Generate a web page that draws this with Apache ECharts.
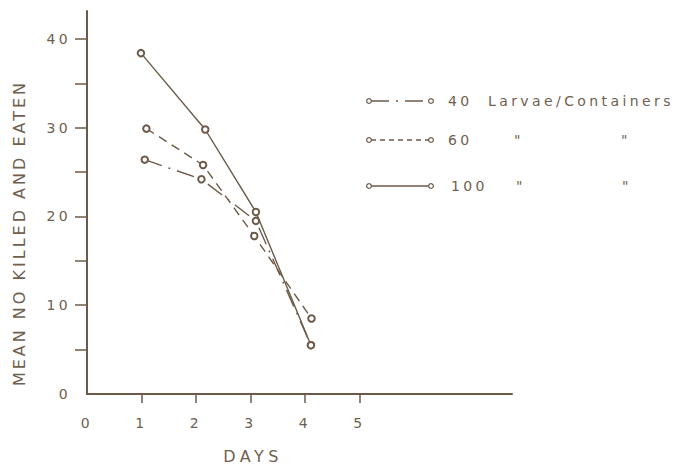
<!DOCTYPE html>
<html>
<head>
<meta charset="utf-8">
<title>Mean number killed and eaten</title>
<script src="https://cdn.jsdelivr.net/npm/echarts@6/dist/echarts.min.js"></script>
<style>
  html, body { margin: 0; padding: 0; background: #ffffff; }
  #chart { width: 677px; height: 464px; }
  #chart text { letter-spacing: 3.4px; }
</style>
</head>
<body>
<div id="chart"></div>
<script>
// Larvae killed and eaten per day, for three container densities
const days40 = [1.06, 2.10, 3.10, 4.11];
const kills40 = [26.4, 24.2, 19.5, 5.5];

const days60 = [1.09, 2.13, 3.07, 4.12];
const kills60 = [29.9, 25.8, 17.8, 8.5];

const days100 = [0.99, 2.17, 3.10, 4.11];
const kills100 = [38.4, 29.8, 20.5, 5.5];

const xTickValues = [1, 2, 3, 4, 5];
const xLabelValues = [0, 1, 2, 3, 4, 5];
const yTickValues = [5, 10, 15, 20, 25, 30, 35, 40];
const yLabelValues = [0, 10, 20, 30, 40];

const Y_TITLE = 'MEAN NO KILLED AND EATEN';
const X_TITLE = 'DAYS';

const INK = '#6c5a48';
const TEXT = '#6f5f4f';
const FONT = 'DejaVu Sans, sans-serif';

const dashDot = [18, 7, 2, 7];
const dashed = [9, 6];

function pairs(xs, ys) {
  return xs.map((x, i) => [x, ys[i]]);
}

function lineSeries(name, xs, ys, dash, z) {
  return {
    name: name,
    type: 'line',
    data: pairs(xs, ys),
    symbol: 'emptyCircle',
    symbolSize: 6.5,
    z: z,
    lineStyle: { color: INK, width: 1.4, type: dash },
    itemStyle: { color: INK, borderColor: INK, borderWidth: 1.3 },
    emphasis: { disabled: true }
  };
}

// Hand-drawn style key: sample line with end circles, then the label
function keyRow(y, dash, parts) {
  const els = [
    {
      type: 'line',
      shape: { x1: 371, y1: y, x2: 429, y2: y },
      style: { stroke: INK, lineWidth: 1.3, lineDash: dash }
    },
    { type: 'circle', shape: { cx: 369, cy: y, r: 2.4 }, style: { fill: '#fff', stroke: INK, lineWidth: 1.2 } },
    { type: 'circle', shape: { cx: 431, cy: y, r: 2.4 }, style: { fill: '#fff', stroke: INK, lineWidth: 1.2 } }
  ];
  parts.forEach(p => {
    els.push({
      type: 'text',
      style: {
        text: p[0], x: p[1], y: y,
        fill: TEXT, font: '14px ' + FONT,
        textAlign: 'left', verticalAlign: 'middle'
      }
    });
  });
  return els;
}

const chart = echarts.init(document.getElementById('chart'), null, { renderer: 'svg' });

// Titles are lettered wider than the tick labels
function spaceTitles() {
  document.querySelectorAll('#chart text').forEach(t => {
    if (t.textContent === Y_TITLE) t.style.letterSpacing = '3px';
    if (t.textContent === X_TITLE) t.style.letterSpacing = '4.5px';
  });
}
chart.on('rendered', spaceTitles);

chart.setOption({
  animation: false,
  backgroundColor: '#ffffff',
  grid: { left: 87, top: 11, right: 165, bottom: 70, containLabel: false, outerBoundsMode: 'none' },
  xAxis: {
    type: 'value',
    min: 0,
    max: 7.8,
    interval: 1,
    splitLine: { show: false },
    axisLine: { show: true, lineStyle: { color: INK, width: 2 } },
    axisTick: { show: true, inside: false, length: 9, customValues: xTickValues, lineStyle: { color: INK, width: 1.5 } },
    axisLabel: {
      show: true, customValues: xLabelValues, margin: 22,
      color: TEXT, fontFamily: FONT, fontSize: 14
    }
  },
  yAxis: {
    type: 'value',
    min: 0,
    max: 43.15,
    interval: 5,
    splitLine: { show: false },
    axisLine: { show: true, lineStyle: { color: INK, width: 2 } },
    axisTick: { show: true, inside: false, length: 12, customValues: yTickValues, lineStyle: { color: INK, width: 1.5 } },
    axisLabel: {
      show: true, customValues: yLabelValues, margin: 16,
      color: TEXT, fontFamily: FONT, fontSize: 14
    }
  },
  series: [
    lineSeries('40 Larvae/Containers', days40, kills40, dashDot, 2),
    lineSeries('60', days60, kills60, dashed, 3),
    lineSeries('100', days100, kills100, 'solid', 4)
  ],
  graphic: [
    {
      type: 'text',
      x: 19, y: 233,
      rotation: Math.PI / 2,
      style: {
        text: Y_TITLE,
        fill: TEXT, font: '16px ' + FONT,
        textAlign: 'center', verticalAlign: 'middle'
      }
    },
    {
      type: 'text',
      x: 253, y: 456,
      style: {
        text: X_TITLE,
        fill: TEXT, font: '16px ' + FONT,
        textAlign: 'center', verticalAlign: 'middle'
      }
    }
  ]
    .concat(keyRow(101, dashDot, [['40', 448], ['Larvae/Containers', 488]]))
    .concat(keyRow(140, [5, 4], [['60', 448], ['"', 514], ['"', 621]]))
    .concat(keyRow(186, null, [['100', 451], ['"', 516], ['"', 622]]))
});
spaceTitles();
</script>
</body>
</html>
